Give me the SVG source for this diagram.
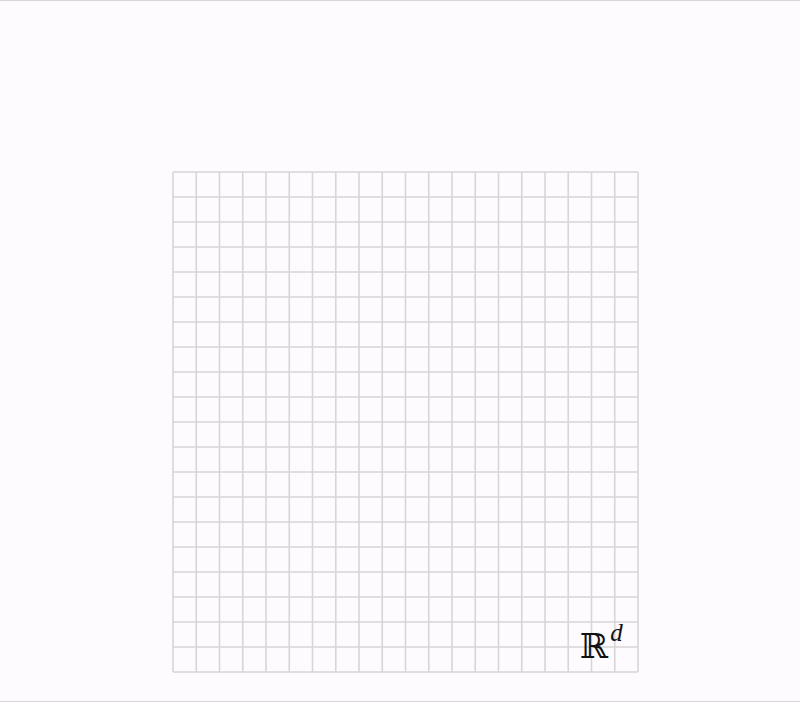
<svg xmlns="http://www.w3.org/2000/svg" width="800" height="702" viewBox="0 0 800 702">
<style>
.g{fill:none;stroke:#d6d6d6;stroke-width:1.6}
.lbl{font-family:"Liberation Serif","DejaVu Serif",serif;fill:#111}
</style>
<rect x="0" y="0" width="800" height="702" fill="#fdfbfe"/>
<line x1="0" y1="0.5" x2="800" y2="0.5" stroke="#d6d6d6" stroke-width="1.2"/>
<line x1="0" y1="701.5" x2="800" y2="701.5" stroke="#d6d6d6" stroke-width="1.2"/>
<g id="grid">
<path class="g" d="M173 172V672M196.25 172V672M219.5 172V672M242.75 172V672M266 172V672M289.25 172V672M312.5 172V672M335.75 172V672M359 172V672M382.25 172V672M405.5 172V672M428.75 172V672M452 172V672M475.25 172V672M498.5 172V672M521.75 172V672M545 172V672M568.25 172V672M591.5 172V672M614.75 172V672M638 172V672"/>
<path class="g" d="M173 172H638M173 197H638M173 222H638M173 247H638M173 272H638M173 297H638M173 322H638M173 347H638M173 372H638M173 397H638M173 422H638M173 447H638M173 472H638M173 497H638M173 522H638M173 547H638M173 572H638M173 597H638M173 622H638M173 647H638M173 672H638"/>
</g>
<g id="label">
<text class="lbl" x="580" y="658" font-size="34">ℝ<tspan font-style="italic" font-size="25" dy="-17" dx="2">d</tspan></text>
</g>
</svg>
